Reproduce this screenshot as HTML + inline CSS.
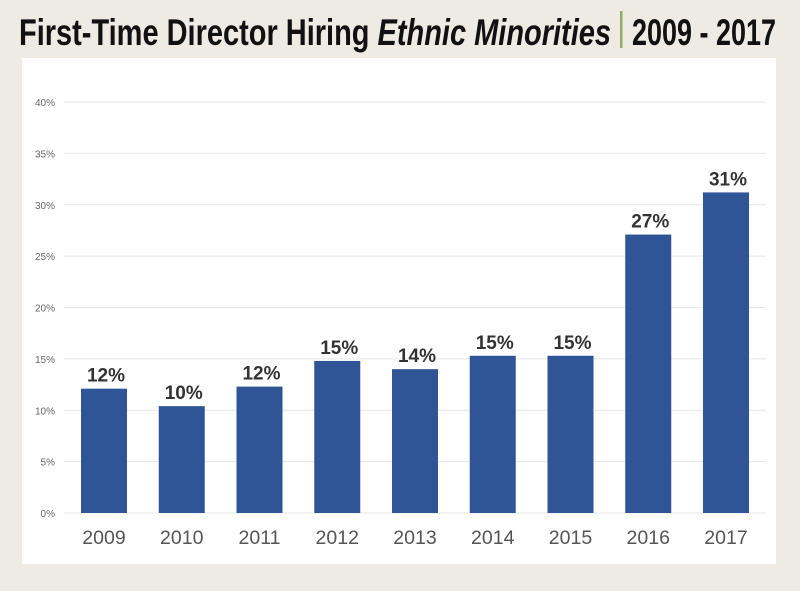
<!DOCTYPE html>
<html><head><meta charset="utf-8"><style>
html,body{margin:0;padding:0;background:#eeebe4;width:800px;height:591px;overflow:hidden}
svg{display:block}
</style></head><body>
<svg id="chart" width="800" height="591" xmlns="http://www.w3.org/2000/svg">
<rect x="0" y="0" width="800" height="591" fill="#eeebe4"/>
<g font-family="'Liberation Sans Narrow','Liberation Sans',sans-serif" font-weight="bold" font-size="37" fill="#111">
<text x="19" y="45" textLength="592" lengthAdjust="spacingAndGlyphs">First-Time Director Hiring <tspan font-style="italic">Ethnic Minorities</tspan></text>
<rect x="620" y="11" width="2.5" height="37" fill="#8fae5a"/>
<text x="632" y="45" textLength="144" lengthAdjust="spacingAndGlyphs">2009 - 2017</text>
</g>
<rect x="22" y="58" width="754" height="506" fill="#fff"/>
<g id="grid"></g><g id="bars"></g><g id="labels"></g>
</svg>
<script>
const categories=["2009","2010","2011","2012","2013","2014","2015","2016","2017"];
const values=[12.1,10.4,12.3,14.8,14.0,15.3,15.3,27.1,31.2];
const valueLabels=["12%","10%","12%","15%","14%","15%","15%","27%","31%"];
const yTicks=[0,5,10,15,20,25,30,35,40];
const NS="http://www.w3.org/2000/svg";
function y(v){return 513-v*(411/40);}
function x(i){return 104+i*77.75;}
function mk(tag,attrs,txt){const e=document.createElementNS(NS,tag);for(const k in attrs)e.setAttribute(k,attrs[k]);if(txt!==undefined)e.textContent=txt;return e;}
const grid=document.getElementById('grid'),bars=document.getElementById('bars'),labels=document.getElementById('labels');
yTicks.forEach(v=>{
 const l=mk('line',{x1:64,x2:766,y1:y(v),y2:y(v),stroke:'#e6e6e6','stroke-width':1});
 
 
 grid.appendChild(l);
 const tx=mk('text',{x:55,y:y(v)+4,'text-anchor':'end','font-family':'Liberation Sans,sans-serif','font-size':10,fill:'#666'},v+'%');
 
 
 grid.appendChild(tx);
});
categories.forEach((c,i)=>{
 const r=mk('rect',{x:x(i)-23,y:y(values[i]),width:46,height:y(0)-y(values[i]),fill:'#2f5597'});
 
 
 bars.appendChild(r);
 const vl=mk('text',{x:x(i)+2,y:y(values[i])-7,'text-anchor':'middle','font-family':'Liberation Sans,sans-serif','font-weight':'bold','font-size':19,fill:'#333'},valueLabels[i]);
 
 
 labels.appendChild(vl);
 const xl=mk('text',{x:x(i),y:544,'text-anchor':'middle','font-family':'Liberation Sans,sans-serif','font-size':19.5,fill:'#555'},c);
 
 
 labels.appendChild(xl);
});
</script>
</body></html>
